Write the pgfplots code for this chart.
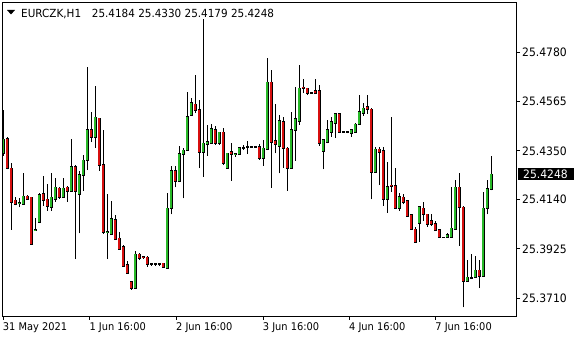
\documentclass[border=0pt]{standalone}
\usepackage{pgfplots}
\pgfplotsset{compat=1.18}
\usepackage{pgfplotstable}
\usepackage{fontspec}
\setmainfont{DejaVu Sans}[FakeStretch=0.93]
\definecolor{bull}{RGB}{40,185,40}
\definecolor{bear}{RGB}{215,15,15}

\pgfplotstableread{
i O H L C
0 25.4340 25.4528 25.4330 25.4401
4 25.4123 25.4144 25.4105 25.4124
5 25.4121 25.4253 25.4121 25.4153
8 25.4007 25.4058 25.4004 25.4008
9 25.4043 25.4168 25.4043 25.4159
12 25.4108 25.4253 25.4091 25.4149
13 25.4140 25.4233 25.4130 25.4192
15 25.4149 25.4233 25.4149 25.4188
17 25.4177 25.4402 25.4177 25.4280
19 25.4164 25.4263 25.3992 25.4246
20 25.4246 25.4333 25.4177 25.4310
21 25.4310 25.4715 25.4267 25.4441
23 25.4409 25.4632 25.4364 25.4496
26 25.3998 25.4164 25.3880 25.3999
27 25.3991 25.4133 25.3991 25.4055
33 25.3754 25.3916 25.3754 25.3901
37 25.3859 25.3860 25.3852 25.3859
38 25.3859 25.3860 25.3852 25.3859
39 25.3859 25.3860 25.3852 25.3859
41 25.3840 25.4169 25.3840 25.4101
42 25.4101 25.4286 25.4075 25.4263
44 25.4218 25.4372 25.4218 25.4337
45 25.4336 25.4362 25.4144 25.4353
46 25.4353 25.4605 25.4353 25.4499
47 25.4505 25.4579 25.4505 25.4560
50 25.4347 25.4922 25.4238 25.4383
51 25.4382 25.4463 25.4330 25.4389
52 25.4383 25.4466 25.4383 25.4446
54 25.4386 25.4434 25.4376 25.4431
56 25.4275 25.4340 25.4275 25.4340
58 25.4336 25.4343 25.4325 25.4337
59 25.4336 25.4364 25.4333 25.4363
60 25.4365 25.4376 25.4354 25.4365
61 25.4369 25.4393 25.4336 25.4369
62 25.4369 25.4370 25.4368 25.4369
63 25.4369 25.4370 25.4368 25.4369
65 25.4318 25.4398 25.4286 25.4362
66 25.4357 25.4753 25.4354 25.4648
69 25.4373 25.4505 25.4253 25.4480
72 25.4275 25.4519 25.4275 25.4441
73 25.4441 25.4629 25.4308 25.4489
74 25.4480 25.4724 25.4463 25.4622
77 25.4603 25.4606 25.4601 25.4603
80 25.4351 25.4398 25.4270 25.4398
81 25.4390 25.4485 25.4383 25.4441
82 25.4434 25.4496 25.4412 25.4477
83 25.4470 25.4516 25.4408 25.4511
85 25.4434 25.4435 25.4433 25.4434
86 25.4434 25.4435 25.4427 25.4434
87 25.4427 25.4441 25.4412 25.4441
88 25.4434 25.4470 25.4429 25.4466
89 25.4466 25.4593 25.4466 25.4519
90 25.4514 25.4557 25.4502 25.4535
93 25.4260 25.4369 25.4260 25.4357
96 25.4140 25.4301 25.4082 25.4195
99 25.4104 25.4166 25.4091 25.4151
104 25.4039 25.4108 25.3956 25.4108
110 25.3975 25.3976 25.3974 25.3975
111 25.3975 25.3995 25.3975 25.3985
112 25.3978 25.4195 25.3978 25.4014
113 25.4010 25.4224 25.4010 25.4192
116 25.3787 25.3876 25.3787 25.3801
117 25.3800 25.3902 25.3793 25.3800
118 25.3801 25.3894 25.3801 25.3832
120 25.3808 25.4173 25.3804 25.4101
121 25.4101 25.4224 25.4075 25.4184
122 25.4184 25.4330 25.4179 25.4248
}\up

\pgfplotstableread{
i O H L C
1 25.4402 25.4409 25.4270 25.4277
2 25.4275 25.4297 25.4007 25.4130
3 25.4136 25.4151 25.4114 25.4121
6 25.4153 25.4159 25.4143 25.4143
7 25.4149 25.4151 25.3945 25.3945
10 25.4163 25.4243 25.4112 25.4137
11 25.4140 25.4207 25.4091 25.4112
14 25.4188 25.4192 25.4143 25.4149
16 25.4192 25.4198 25.4130 25.4177
18 25.4280 25.4289 25.3880 25.4177
22 25.4441 25.4519 25.4388 25.4409
24 25.4492 25.4492 25.4264 25.4289
25 25.4289 25.4441 25.3991 25.3998
28 25.4050 25.4072 25.3969 25.3969
29 25.3971 25.3998 25.3920 25.3926
30 25.3933 25.3942 25.3846 25.3850
31 25.3855 25.3872 25.3819 25.3819
32 25.3780 25.3782 25.3746 25.3754
34 25.3901 25.3908 25.3876 25.3884
35 25.3890 25.3894 25.3880 25.3888
36 25.3888 25.3895 25.3847 25.3859
40 25.3862 25.3863 25.3845 25.3845
43 25.4264 25.4286 25.4192 25.4218
48 25.4553 25.4680 25.4514 25.4528
49 25.4528 25.4572 25.4275 25.4347
53 25.4441 25.4459 25.4376 25.4386
55 25.4431 25.4449 25.4289 25.4299
57 25.4347 25.4383 25.4221 25.4336
64 25.4369 25.4380 25.4311 25.4318
67 25.4648 25.4702 25.4190 25.4390
68 25.4393 25.4554 25.4340 25.4379
70 25.4476 25.4496 25.4277 25.4362
71 25.4362 25.4369 25.4177 25.4275
75 25.4627 25.4663 25.4601 25.4622
76 25.4622 25.4622 25.4593 25.4601
78 25.4611 25.4661 25.4598 25.4601
79 25.4611 25.4637 25.4373 25.4383
84 25.4511 25.4511 25.4434 25.4434
91 25.4541 25.4593 25.4511 25.4531
92 25.4531 25.4535 25.4140 25.4260
94 25.4357 25.4369 25.4202 25.4347
95 25.4350 25.4366 25.4111 25.4140
97 25.4201 25.4496 25.4173 25.4198
98 25.4199 25.4275 25.4098 25.4104
100 25.4149 25.4162 25.4118 25.4130
101 25.4133 25.4137 25.4069 25.4069
102 25.4072 25.4072 25.4010 25.4010
103 25.4010 25.4021 25.3956 25.3956
105 25.4101 25.4127 25.4046 25.4075
106 25.4075 25.4075 25.4021 25.4032
107 25.4046 25.4075 25.4024 25.4032
108 25.4032 25.4046 25.4007 25.4007
109 25.4007 25.4007 25.3975 25.3975
114 25.4192 25.4253 25.3939 25.4105
115 25.4105 25.4111 25.3671 25.3787
119 25.3832 25.3876 25.3754 25.3808
}\down

\begin{document}
\begin{tikzpicture}[font=\fontsize{11.2}{13}\selectfont]
\useasboundingbox (0pt,0pt) rectangle (580pt,340pt);
\begin{axis}[
  at={(2.5pt,24pt)}, anchor=south west,
  scale only axis, width=513.5pt, height=313pt,
  xmin=-0.2, xmax=128.2, ymin=25.3633, ymax=25.4993,
  axis line style={line width=1pt, black},
  xtick={-0.03,21.63,43.3,64.98,86.55,108.13},
  xticklabels={31 May 2021, 1 Jun 16:00, 2 Jun 16:00, 3 Jun 16:00, 4 Jun 16:00, 7 Jun 16:00},
  ytick={25.3710,25.3925,25.4140,25.4350,25.4565,25.4780},
  yticklabels={25.3710,25.3925,25.4140,25.4350,25.4565,25.4780},
  xtick pos=bottom, ytick pos=right, yticklabel pos=right,
  tick align=outside, major tick length=4pt,
  every tick/.style={black, line width=1pt},
  xticklabel style={anchor=north west, inner sep=0pt, xshift=-0.5pt, yshift=-2.5pt, font=\fontsize{10.6}{12}\selectfont},
  yticklabel style={anchor=west, inner sep=0pt, xshift=2pt, font=\fontsize{11.6}{13}\selectfont},
  clip mode=individual,
]
% wicks
\addplot[forget plot, draw=none, mark=none, error bars/.cd, y dir=both, y explicit, error mark=none,
  error bar style={draw=black, solid, line width=1pt}]
  table[x=i, y=L, y error plus expr=\thisrow{H}-\thisrow{L}, y error minus expr=0] {\up};
\addplot[forget plot, draw=none, mark=none, error bars/.cd, y dir=both, y explicit, error mark=none,
  error bar style={draw=black, solid, line width=1pt}]
  table[x=i, y=L, y error plus expr=\thisrow{H}-\thisrow{L}, y error minus expr=0] {\down};
% body outlines
\addplot[forget plot, draw=none, mark=none, error bars/.cd, y dir=both, y explicit, error mark=none,
  error bar style={draw=black, solid, line width=3.2pt}]
  table[x=i, y=O, y error plus expr=\thisrow{C}-\thisrow{O}+0.0003, y error minus expr=0.0003] {\up};
\addplot[forget plot, draw=none, mark=none, error bars/.cd, y dir=both, y explicit, error mark=none,
  error bar style={draw=black, solid, line width=3.2pt}]
  table[x=i, y=C, y error plus expr=\thisrow{O}-\thisrow{C}+0.0003, y error minus expr=0.0003] {\down};
% body fills
\addplot[forget plot, draw=none, mark=none, error bars/.cd, y dir=both, y explicit, error mark=none,
  error bar style={draw=bull, solid, line width=1.6pt}]
  table[x=i, y=O, y error plus expr=\thisrow{C}-\thisrow{O}, y error minus expr=0] {\up};
\addplot[forget plot, draw=none, mark=none, error bars/.cd, y dir=both, y explicit, error mark=none,
  error bar style={draw=bear, solid, line width=1.6pt}]
  table[x=i, y=C, y error plus expr=\thisrow{O}-\thisrow{C}, y error minus expr=0] {\down};
% last price label
\node[fill=black, text=white, anchor=west, inner sep=0pt, minimum width=56pt, minimum height=12pt, xshift=1.3pt, font=\fontsize{11.6}{13}\selectfont]
  at (axis cs:128.2,25.4248) {25.4248};
\end{axis}
\fill (7pt,330pt) -- (15pt,330pt) -- (11pt,325.5pt) -- cycle;
\node[anchor=base west, inner sep=0pt] at (21pt,322.5pt) {EURCZK,H1};
\node[anchor=base west, inner sep=0pt] at (91.7pt,322.5pt) {25.4184 25.4330 25.4179 25.4248};
\end{tikzpicture}
\end{document}
